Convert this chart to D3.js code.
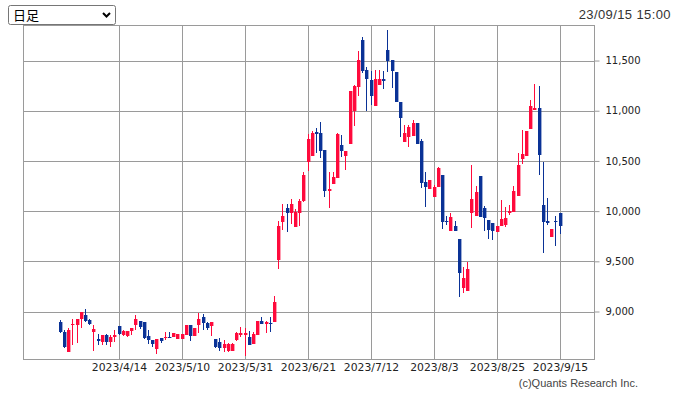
<!DOCTYPE html>
<html>
<head>
<meta charset="utf-8">
<script src="https://cdn.jsdelivr.net/npm/d3@7"></script>
<style>
  html, body { margin: 0; padding: 0; background: #fff; }
  svg { display: block; }
</style>
</head>
<body>
<div id="chart"></div>
<script>
// trading calendar (TSE), weekdays minus holidays
const firstDay = "2023-03-27";
const lastDay = "2023-09-15";
const holidays = ["2023-04-29", "2023-05-03", "2023-05-04", "2023-05-05", "2023-07-17", "2023-08-11"];

// daily OHLC
const openP = [
  8895, 8797, 8597, 8870, 8863, 8923, 8963, 8913, 8797, 8730,
  8697, 8763, 8697, 8743, 8857, 8763, 8757, 8807, 8863, 8903,
  8897, 8757, 8720, 8630, 8737, 8737, 8750, 8743, 8723, 8723,
  8770, 8870, 8753, 8870, 8950, 8883, 8853, 8727, 8693, 8637,
  8603, 8610, 8717, 8767, 8770, 8743, 8677, 8767, 8910, 8877,
  8883, 8893, 9510, 9893, 10027, 9983, 9843, 9983, 10100, 10487,
  10553, 10793, 10777, 10610, 10203, 10270, 10333, 10660, 10553, 10670,
  11000, 11233, 11700, 11410, 11310, 11043, 11253, 11320, 11600, 11510,
  11387, 11087, 10693, 10743, 10753, 10877, 10700, 10293, 10220, 10143,
  10237, 10360, 9900, 9803, 9850, 9720, 9233, 9203, 9977, 9950,
  10350, 10027, 9910, 9883, 9793, 9850, 9860, 9983, 9993, 10150,
  10520, 10553, 10820, 11003, 11027, 10060, 9903, 9743, 9900, 9983
];
const highP = [
  8913, 8813, 8837, 8930, 8930, 8997, 9030, 8923, 8870, 8780,
  8770, 8780, 8770, 8813, 8857, 8813, 8807, 8837, 8970, 8903,
  8897, 8813, 8720, 8730, 8737, 8800, 8793, 8787, 8777, 8777,
  8870, 8870, 8833, 8983, 8977, 8900, 8900, 8727, 8737, 8717,
  8683, 8683, 8793, 8843, 8833, 8810, 8793, 8910, 8950, 8903,
  8950, 9150, 9903, 10070, 10070, 10120, 10017, 10120, 10393, 10767,
  10800, 10827, 10887, 10610, 10393, 10393, 10777, 10760, 10600, 11193,
  11260, 11593, 11733, 11437, 11393, 11410, 11410, 11393, 11800, 11510,
  11387, 11087, 10860, 10860, 10910, 10877, 10720, 10393, 10310, 10260,
  10443, 10360, 9950, 9983, 9900, 9720, 9443, 9493, 10460, 10250,
  10350, 10050, 9910, 9883, 9853, 10110, 10037, 10060, 10250, 10583,
  10810, 10800, 11110, 11270, 11250, 10493, 10127, 9817, 9950, 9983
];
const lowP = [
  8790, 8637, 8597, 8670, 8690, 8837, 8897, 8863, 8603, 8663,
  8663, 8663, 8647, 8697, 8770, 8757, 8750, 8770, 8813, 8830,
  8730, 8680, 8647, 8580, 8690, 8720, 8733, 8743, 8723, 8723,
  8767, 8703, 8753, 8783, 8817, 8817, 8753, 8637, 8610, 8600,
  8600, 8603, 8710, 8743, 8560, 8667, 8677, 8767, 8877, 8787,
  8800, 8893, 9420, 9810, 9793, 9870, 9843, 9850, 10093, 10403,
  10553, 10577, 10527, 10143, 10027, 10270, 10333, 10543, 10410, 10670,
  10843, 11143, 11377, 11000, 11060, 11043, 11253, 11217, 11387, 11227,
  11083, 10743, 10693, 10637, 10753, 10667, 10227, 10043, 10220, 10143,
  10237, 9817, 9860, 9803, 9803, 9143, 9187, 9203, 9827, 9950,
  9937, 9803, 9727, 9717, 9793, 9850, 9843, 9960, 9993, 10150,
  10470, 10553, 10820, 11003, 10360, 9583, 9860, 9743, 9653, 9770
];
const closeP = [
  8797, 8647, 8820, 8880, 8923, 8997, 8903, 8880, 8823, 8703,
  8770, 8697, 8747, 8770, 8780, 8807, 8807, 8837, 8923, 8847,
  8737, 8713, 8680, 8730, 8703, 8750, 8740, 8787, 8777, 8777,
  8870, 8760, 8833, 8927, 8887, 8833, 8900, 8643, 8637, 8677,
  8677, 8677, 8787, 8787, 8783, 8667, 8777, 8910, 8877, 8900,
  8877, 9093, 9850, 9950, 9983, 10070, 9993, 10103, 10360, 10720,
  10777, 10770, 10603, 10203, 10220, 10337, 10767, 10603, 10600, 11193,
  11243, 11510, 11393, 11317, 11143, 11320, 11320, 11300, 11500, 11393,
  11083, 10927, 10777, 10837, 10877, 10667, 10283, 10243, 10310, 10243,
  10427, 9893, 9887, 9937, 9803, 9383, 9333, 9420, 10120, 10193,
  9943, 9927, 9810, 9803, 9853, 9917, 9933, 10000, 10203, 10460,
  10570, 10800, 11050, 11027, 10560, 9893, 9877, 9817, 9893, 9853
];

const priceTicks = [9000, 9500, 10000, 10500, 11000, 11500];
const dateTicks = ["2023/4/14", "2023/5/10", "2023/5/31", "2023/6/21", "2023/7/12", "2023/8/3", "2023/8/25", "2023/9/15"];
const periodLabel = "日足";
const stampLabel = "23/09/15 15:00";
const creditLabel = "(c)Quants Research Inc.";

const width = 679, height = 395;
const box = {left: 23.5, right: 594.5, top: 25.5, bottom: 359.5};
const upColor = "#ff0a3c", downColor = "#0a3296", gridColor = "#9a9a9a";

// build the date categories
const parseDay = d3.timeParse("%Y-%m-%d");
const fmtDay = d3.timeFormat("%Y/%-m/%-d");
const isoDay = d3.timeFormat("%Y-%m-%d");
const dates = d3.timeDay.range(parseDay(firstDay), d3.timeDay.offset(parseDay(lastDay), 1))
  .filter(d => d.getDay() !== 0 && d.getDay() !== 6 && holidays.indexOf(isoDay(d)) < 0)
  .map(fmtDay);

const candles = dates.map((d, i) => ({
  date: d, i: i, o: openP[i], h: highP[i], l: lowP[i], c: closeP[i]
}));

const x = d3.scaleLinear()
  .domain([-8.62, candles.length + 7.33])
  .range([box.left, box.right]);
const y = d3.scaleLinear()
  .domain([8522, 11849])
  .range([box.bottom, box.top]);

const svg = d3.select("#chart").append("svg")
  .attr("width", width)
  .attr("height", height);

// grid
const tickIdx = dateTicks.map(t => dates.indexOf(t));
svg.append("g")
  .selectAll("line")
  .data(priceTicks).enter()
  .append("line")
    .attr("x1", box.left).attr("x2", box.right)
    .attr("y1", d => Math.round(y(d)) + 0.5)
    .attr("y2", d => Math.round(y(d)) + 0.5)
    .attr("stroke", gridColor);
svg.append("g")
  .selectAll("line")
  .data(tickIdx).enter()
  .append("line")
    .attr("x1", d => Math.round(x(d)) + 0.5)
    .attr("x2", d => Math.round(x(d)) + 0.5)
    .attr("y1", box.top).attr("y2", box.bottom)
    .attr("stroke", gridColor);

// frame
svg.append("rect")
  .attr("x", box.left).attr("y", box.top)
  .attr("width", box.right - box.left)
  .attr("height", box.bottom - box.top)
  .attr("fill", "none")
  .attr("stroke", gridColor);

// right price axis
const axisG = svg.append("g")
  .attr("transform", `translate(${box.right},0)`)
  .call(d3.axisRight(y).tickValues(priceTicks).tickSize(5).tickPadding(6).tickFormat(d3.format(",")));
axisG.select(".domain").remove();
axisG.selectAll(".tick line").attr("stroke", gridColor);
axisG.selectAll(".tick text")
  .attr("fill", "#222")
  .style("font-family", "'DejaVu Sans', sans-serif")
  .style("font-size", "10px");

// date labels
svg.append("g")
  .selectAll("text")
  .data(dateTicks).enter()
  .append("text")
    .attr("x", (d, k) => Math.round(x(tickIdx[k])) + 0.5)
    .attr("y", 371)
    .attr("text-anchor", "middle")
    .attr("fill", "#222")
    .style("font-family", "'DejaVu Sans', sans-serif")
    .style("font-size", "10.8px")
    .text(d => d);

// candles
const cg = svg.append("g")
  .selectAll("g")
  .data(candles).enter()
  .append("g")
  .attr("fill", d => d.c >= d.o ? upColor : downColor)
  .attr("stroke", d => d.c >= d.o ? upColor : downColor);
cg.append("line")
  .attr("x1", d => Math.round(x(d.i)) + 0.5)
  .attr("x2", d => Math.round(x(d.i)) + 0.5)
  .attr("y1", d => Math.round(y(d.h)))
  .attr("y2", d => Math.round(y(d.l)))
  .attr("stroke-width", 1);
cg.append("rect")
  .attr("stroke", "none")
  .attr("x", d => Math.round(x(d.i)) - 1)
  .attr("width", 3.4)
  .attr("y", d => Math.round(y(Math.max(d.o, d.c))))
  .attr("height", d => Math.max(1, Math.round(y(Math.min(d.o, d.c))) - Math.round(y(Math.max(d.o, d.c)))));

// period selector
const sel = svg.append("g");
sel.append("rect")
  .attr("x", 8.5).attr("y", 5.5)
  .attr("width", 107).attr("height", 19)
  .attr("rx", 2)
  .attr("fill", "#fff")
  .attr("stroke", "#767676");
sel.append("text")
  .attr("x", 13).attr("y", 20)
  .attr("fill", "#000")
  .style("font-family", "'Noto Sans CJK JP', sans-serif")
  .style("font-size", "13px")
  .text(periodLabel);
sel.append("path")
  .attr("d", "M103,13 L106.5,16.5 L110,13")
  .attr("fill", "none")
  .attr("stroke", "#000")
  .attr("stroke-width", 2);

// timestamp and credit
svg.append("text")
  .attr("x", 671).attr("y", 19)
  .attr("text-anchor", "end")
  .attr("fill", "#333")
  .style("font-family", "'Liberation Sans', Arial, sans-serif")
  .style("font-size", "13px")
  .style("letter-spacing", "0.4px")
  .text(stampLabel);
svg.append("text")
  .attr("x", 638).attr("y", 387)
  .attr("text-anchor", "end")
  .attr("fill", "#444")
  .style("font-family", "'Liberation Sans', Arial, sans-serif")
  .style("font-size", "11px")
  .text(creditLabel);
</script>
</body>
</html>
